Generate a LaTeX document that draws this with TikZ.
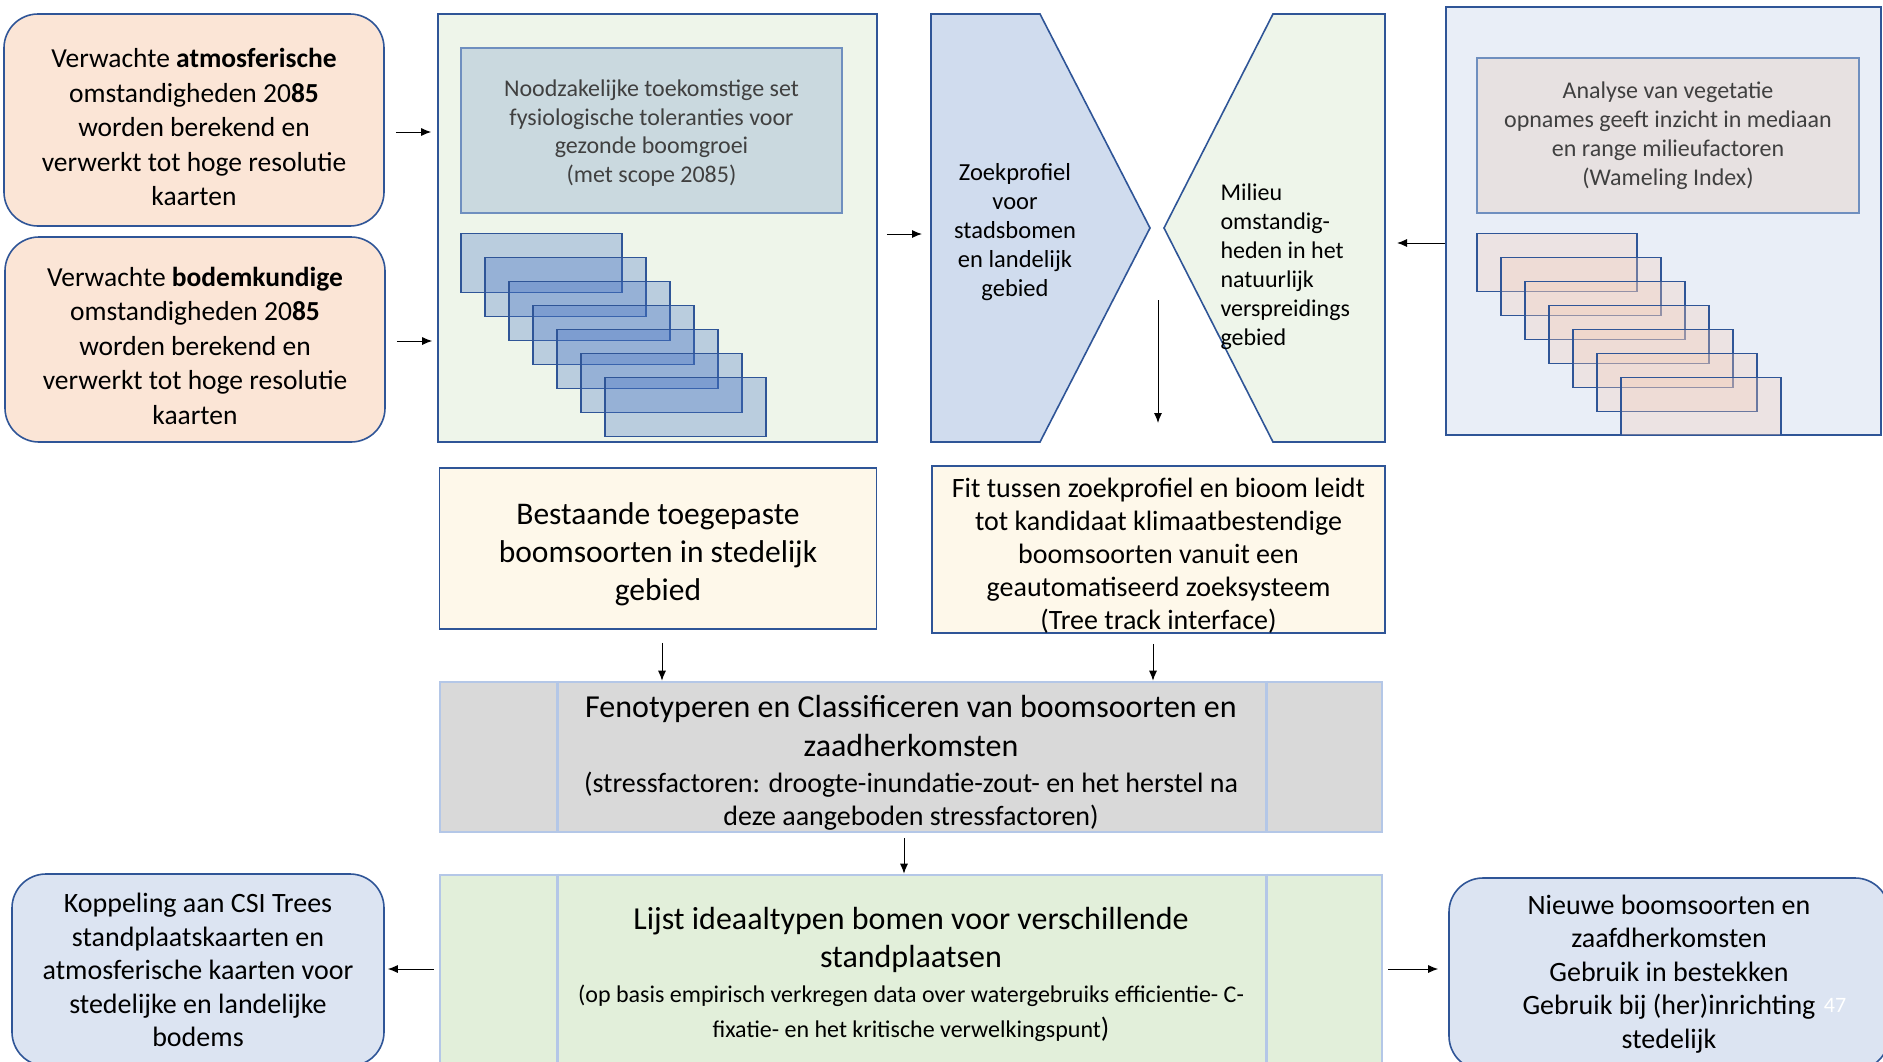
\documentclass[tikz,border=0pt]{standalone}
\usepackage{fontspec}
\setmainfont{Carlito}
\usetikzlibrary{arrows.meta,positioning,calc}
\definecolor{BoxLine}{HTML}{2F5597}
\definecolor{PaleLine}{HTML}{B4C7E7}
\definecolor{MidLine}{HTML}{6F8FBF}
\definecolor{Peach}{HTML}{FBE5D6}
\definecolor{PaleGreen}{HTML}{EEF5EA}
\definecolor{SlateBlue}{HTML}{CAD9DF}
\definecolor{MapBlue}{HTML}{4472C4}
\definecolor{ZoekBlue}{HTML}{D0DCEE}
\definecolor{PaleBlue}{HTML}{E9EEF7}
\definecolor{Rose}{HTML}{E7E1E1}
\definecolor{MapRose}{HTML}{F4CCB8}
\definecolor{Cream}{HTML}{FEF8EA}
\definecolor{StepGray}{HTML}{D9D9D9}
\definecolor{StepGreen}{HTML}{E2EFDA}
\definecolor{OutBlue}{HTML}{DCE4F2}
\definecolor{NoteGray}{HTML}{404040}
\newcommand{\boxfont}[2]{\fontsize{#1}{#2}\selectfont}
\newcommand{\padtop}[1]{\rule{0pt}{#1}}
\newcommand{\padbot}[1]{\rule[-#1]{0pt}{#1}}

\begin{document}
\begin{tikzpicture}[x=1pt,y=-1pt,
 softbox/.style={draw=BoxLine,line width=1.6pt,rounded corners=34pt,align=center,inner sep=0pt},
 panel/.style={draw=BoxLine,line width=1.6pt,inner sep=0pt},
 notebox/.style={draw=MidLine,line width=1.6pt,align=center,inner sep=0pt,text=NoteGray},
 mapcell/.style={draw=BoxLine,line width=1.6pt,minimum width=161pt,minimum height=59pt,inner sep=0pt},
 stepbox/.style={draw=PaleLine,line width=2.6pt,align=center,inner sep=0pt},
 arr/.style={-{Latex[length=10pt,width=8pt]},line width=1pt}]
\clip (0,0) rectangle (1883,1061);

% inputs on the left
\node[softbox,fill=Peach,minimum width=380pt,minimum height=212pt,font=\boxfont{27.5}{34.5}] (atmos) at (194,120)
 {\padtop{34pt}Verwachte \textbf{atmosferische}\\omstandigheden 20\textbf{85}\\worden berekend en\\verwerkt tot hoge resolutie\\kaarten};
\node[softbox,fill=Peach,minimum width=380pt,minimum height=205pt,font=\boxfont{27.5}{34.5}] (bodem) at (195,339.5)
 {\padtop{32pt}Verwachte \textbf{bodemkundige}\\omstandigheden 20\textbf{85}\\worden berekend en\\verwerkt tot hoge resolutie\\kaarten};

% tolerance panel
\node[panel,fill=PaleGreen,minimum width=439pt,minimum height=428pt] (toler) at (657.5,228) {};
\node[notebox,fill=SlateBlue,minimum width=381pt,minimum height=165pt,font=\boxfont{24}{28.5}] (tolnote) at (651.5,130.5)
 {\padtop{22pt}Noodzakelijke toekomstige set\\fysiologische toleranties voor\\gezonde boomgroei\\(met scope 2085)};
\foreach \k in {0,...,6}
 \node[mapcell,fill=MapBlue,fill opacity=0.3] (gmap\k) at ({541.5+24*\k},{263+24*\k}) {};

% search profile and biome
\draw[BoxLine,line width=1.6pt,fill=ZoekBlue] (931,14) -- (1040,14) -- (1150,228) -- (1040,442) -- (931,442) -- cycle;
\draw[BoxLine,line width=1.6pt,fill=PaleGreen] (1164,228) -- (1273,14) -- (1385,14) -- (1385,442) -- (1273,442) -- cycle;
\coordinate (zoek-w) at (931,234);
\coordinate (milieu-e) at (1385,243);
\coordinate (gap-top) at (1158,300);
\coordinate (gap-bot) at (1158,423);
\node[align=center,font=\boxfont{24.5}{29}] (zoek) at (1015,232)
 {Zoekprofiel\\voor\\stadsbomen\\en landelijk\\gebied};
\node[align=left,anchor=west,font=\boxfont{24}{29}] (milieu) at (1217,267)
 {Milieu\\omstandig-\\heden in het\\natuurlijk\\verspreidings\\gebied};

% vegetation panel
\node[panel,fill=PaleBlue,minimum width=435pt,minimum height=428pt] (veget) at (1663.5,221) {};
\node[notebox,fill=Rose,minimum width=382pt,minimum height=155pt,font=\boxfont{24}{29}] (vegnote) at (1668,135.5)
 {Analyse van vegetatie\\opnames geeft inzicht in mediaan\\en range milieufactoren\\(Wameling Index)};
\foreach \k in {0,...,6}
 \node[mapcell,minimum width=160pt,minimum height=58pt,fill=MapRose,fill opacity=0.3] (rmap\k) at ({1557+24*\k},{262.5+24*\k}) {};

% middle row
\node[panel,fill=Cream,minimum width=437pt,minimum height=161pt,align=center,font=\boxfont{31.5}{38}] (bestaand) at (658,548.5)
 {\padtop{33.5pt}Bestaande toegepaste\\boomsoorten in stedelijk\\gebied};
\node[panel,fill=Cream,minimum width=453pt,minimum height=161pt,align=center,font=\boxfont{28}{33}] (fit) at (1158.5,549.5)
 {\padtop{31pt}Fit tussen zoekprofiel en bioom leidt\\tot kandidaat klimaatbestendige\\boomsoorten vanuit een\\geautomatiseerd zoeksysteem\\(Tree track interface)};

% process steps
\node[stepbox,fill=StepGray,minimum width=942pt,minimum height=150pt,font=\boxfont{32}{39}] (feno) at (911,757)
 {\padtop{34pt}Fenotyperen en Classificeren van boomsoorten en\\zaadherkomsten\\[-3pt]
  {\boxfont{28}{33}(stressfactoren: droogte-inundatie-zout- en het herstel na}\\[-6pt]
  {\boxfont{28}{33}deze aangeboden stressfactoren)}};
\draw[PaleLine,line width=2.6pt] ([xshift=118.5pt]feno.north west) -- ([xshift=118.5pt]feno.south west);
\draw[PaleLine,line width=2.6pt] ([xshift=-117pt]feno.north east) -- ([xshift=-117pt]feno.south east);

\node[stepbox,fill=StepGreen,minimum width=942pt,minimum height=214pt,font=\boxfont{32}{38}] (lijst) at (911,982)
 {Lijst ideaaltypen bomen voor verschillende\\standplaatsen\\[-3pt]
  {\boxfont{24}{30}(op basis empirisch verkregen data over watergebruiks efficientie- C-}\\[-3pt]
  {\boxfont{24}{30}fixatie- en het kritische verwelkingspunt\boxfont{28}{30})\padbot{19pt}}};
\draw[PaleLine,line width=2.6pt] ([xshift=118.5pt]lijst.north west) -- ([xshift=118.5pt]lijst.south west);
\draw[PaleLine,line width=2.6pt] ([xshift=-117pt]lijst.north east) -- ([xshift=-117pt]lijst.south east);

% outputs
\node[softbox,fill=OutBlue,minimum width=372pt,minimum height=192pt,font=\boxfont{28}{33.6}] (koppel) at (198,970)
 {Koppeling aan CSI Trees\\standplaatskaarten en\\atmosferische kaarten voor\\stedelijke en landelijke\\bodems};
\node[softbox,fill=OutBlue,minimum width=440pt,minimum height=192pt,font=\boxfont{28}{33.6}] (nieuw) at (1669,974)
 {Nieuwe boomsoorten en\\zaafdherkomsten\\Gebruik in bestekken\\Gebruik bij (her)inrichting\\stedelijk};
\node[text=white,font=\boxfont{22}{26}] (slidenr) at (1835,1005) {47};

% connectors
\draw[arr,shorten <=11pt,shorten >=6pt] ([yshift=-12pt]atmos.east) -- ([yshift=-12pt]atmos.east -| toler.west);
\draw[arr,shorten <=11pt,shorten >=5pt] ([yshift=-1.5pt]bodem.east) -- ([yshift=-1.5pt]bodem.east -| toler.west);
\draw[arr,shorten <=9pt,shorten >=9pt] (toler.east |- zoek-w) -- (zoek-w);
\draw[arr] (gap-top) -- (gap-bot);
\draw[arr,shorten >=12pt] ([yshift=-22pt]veget.west) -- (milieu-e);
\draw[arr,shorten <=13pt] ([xshift=4pt]bestaand.south) -- ([xshift=4pt]bestaand.south |- feno.north);
\draw[arr,shorten <=10pt] ([xshift=-5.5pt]fit.south) -- ([xshift=-5.5pt]fit.south |- feno.north);
\draw[arr,shorten <=5pt] ([xshift=-7pt]feno.south) -- ([xshift=-7pt]lijst.north);
\draw[arr,shorten <=5pt,shorten >=3pt] ([yshift=13pt]lijst.west) -- ([yshift=13pt]lijst.west -| koppel.east);
\draw[arr,shorten <=5pt,shorten >=10pt] ([yshift=13pt]lijst.east) -- ([yshift=13pt]lijst.east -| nieuw.west);
\end{tikzpicture}
\end{document}
